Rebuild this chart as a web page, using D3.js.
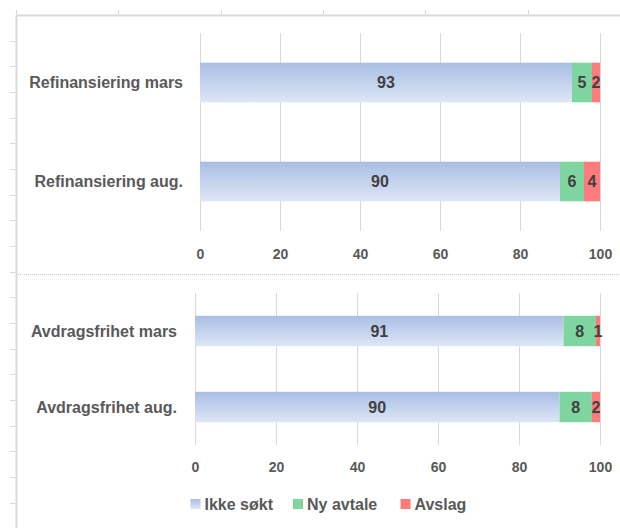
<!DOCTYPE html>
<html><head><meta charset="utf-8">
<script src="https://cdn.jsdelivr.net/npm/d3@7"></script>
<style>
body{margin:0;background:#fff;}
svg{display:block;}
text{font-family:"Liberation Sans",Arial,sans-serif;font-weight:bold;}
</style></head>
<body>
<svg id="c" width="620" height="528"></svg>
<script>
const series = ["Ikke søkt","Ny avtale","Avslag"];
const colors = ["url(#blueGrad)","#7fd59f","#ff7b7b"];
const panel1Categories = ["Refinansiering mars","Refinansiering aug."];
const panel1IkkeSokt = [93,90];
const panel1NyAvtale = [5,6];
const panel1Avslag = [2,4];
const panel2Categories = ["Avdragsfrihet mars","Avdragsfrihet aug."];
const panel2IkkeSokt = [91,90];
const panel2NyAvtale = [8,8];
const panel2Avslag = [1,2];
const xTicks = [0,20,40,60,80,100];

const svg = d3.select("#c");
const defs = svg.append("defs");
const g = defs.append("linearGradient").attr("id","blueGrad").attr("x1",0).attr("y1",0).attr("x2",0).attr("y2",1);
g.append("stop").attr("offset","0%").attr("stop-color","#a9bee4");
g.append("stop").attr("offset","100%").attr("stop-color","#dde6f5");

// spreadsheet frame
const frame = svg.append("g").attr("stroke","#d9d9d9").attr("fill","none");
frame.append("line").attr("x1",16).attr("x2",620).attr("y1",15.5).attr("y2",15.5).attr("stroke-width",2);
frame.append("line").attr("x1",16).attr("x2",620).attr("y1",274.5).attr("y2",274.5).attr("stroke","#c8c8c8").attr("stroke-dasharray","1,1");
frame.append("line").attr("x1",16.5).attr("x2",16.5).attr("y1",15).attr("y2",528).attr("stroke-width",2);
const colTicks = d3.range(0,6).map(i=>16+i*102.3);
frame.selectAll(".ct").data(colTicks).join("line").attr("x1",d=>Math.round(d)+0.5).attr("x2",d=>Math.round(d)+0.5).attr("y1",10).attr("y2",15);
const rowTicks = d3.range(1,20).map(i=>15+i*25.67);
frame.selectAll(".rt").data(rowTicks).join("line").attr("x1",10).attr("x2",16).attr("y1",d=>Math.round(d)+0.5).attr("y2",d=>Math.round(d)+0.5);

function panel(cats, a, b, c, x0, x1, y0, y1, axisY, labelEnd){
  const x = d3.scaleLinear().domain([0,100]).range([x0,x1]);
  const y = d3.scaleBand().domain(cats).range([y0,y1]).paddingInner(0.6).paddingOuter(0.3);
  const pg = svg.append("g");
  pg.selectAll(".grid").data(xTicks).join("line")
    .attr("x1",d=>Math.round(x(d))+0.5).attr("x2",d=>Math.round(x(d))+0.5)
    .attr("y1",y0).attr("y2",y1).attr("stroke","#d9d9d9").attr("stroke-width",1);
  const rows = cats.map((cat,i)=>({cat, vals:[a[i],b[i],c[i]]}));
  rows.forEach(r=>{
    let acc=0;
    r.vals.forEach((v,j)=>{
      const s=acc; acc+=v;
      pg.append("rect").attr("x",x(s)).attr("width",x(acc)-x(s))
        .attr("y",y(r.cat)).attr("height",y.bandwidth()).attr("fill",colors[j]);
      pg.append("text").attr("x",x(s+v/2)).attr("y",y(r.cat)+y.bandwidth()/2)
        .attr("text-anchor","middle").attr("dominant-baseline","central")
        .attr("font-size",16).attr("fill","#404040").text(v);
    });
    pg.append("text").attr("x",labelEnd).attr("y",y(r.cat)+y.bandwidth()/2)
      .attr("text-anchor","end").attr("dominant-baseline","central")
      .attr("font-size",16).attr("fill","#595959").text(r.cat);
  });
  const ax = d3.axisBottom(x).tickValues(xTicks).tickSize(0).tickPadding(0);
  const axg = pg.append("g").attr("transform",`translate(0,${axisY})`).call(ax);
  axg.select(".domain").remove();
  axg.selectAll("text").attr("font-size",14).attr("fill","#595959").attr("dy",null)
    .attr("dominant-baseline","central").attr("y",0)
    .style("font-family","'Liberation Sans',Arial,sans-serif").style("font-weight","bold");
}
panel(panel1Categories, panel1IkkeSokt, panel1NyAvtale, panel1Avslag, 200, 600, 33, 231, 254, 183);
panel(panel2Categories, panel2IkkeSokt, panel2NyAvtale, panel2Avslag, 195, 600, 293, 445, 467, 177);

// legend
const legX = [190.5, 293, 400.5];
const lg = svg.append("g");
series.forEach((s,i)=>{
  lg.append("rect").attr("x",legX[i]).attr("y",499).attr("width",10).attr("height",10).attr("fill",colors[i]);
  lg.append("text").attr("x",legX[i]+14).attr("y",504).attr("dominant-baseline","central")
    .attr("font-size",16).attr("fill","#595959").text(s);
});
</script>
</body></html>
